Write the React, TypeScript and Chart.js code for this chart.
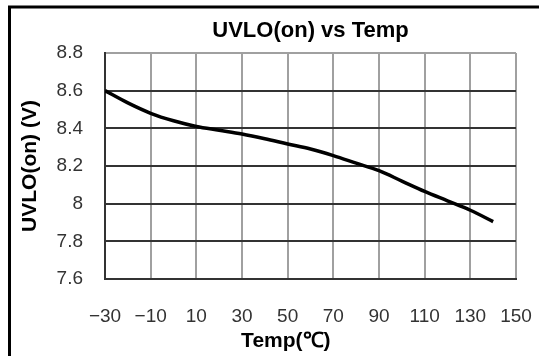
import React, { useEffect, useRef } from "react";
import { Chart, registerables } from "chart.js";

Chart.register(...registerables);

const temps = [-30, -20, -10, 0, 10, 20, 30, 40, 50, 60, 70, 80, 90, 100, 110, 120, 130, 140];
const uvloOn = [8.6, 8.535, 8.48, 8.44, 8.41, 8.39, 8.37, 8.345, 8.317, 8.29, 8.255, 8.215, 8.175, 8.12, 8.065, 8.015, 7.965, 7.905];
const xTickValues = [-30, -10, 10, 30, 50, 70, 90, 110, 130, 150];
const yTickValues = [7.6, 7.8, 8.0, 8.2, 8.4, 8.6, 8.8];
const chartTitle = "UVLO(on) vs Temp";
const xTitle = "Temp(℃)";
const yTitle = "UVLO(on) (V)";

const FONT = "'Liberation Sans', Arial, sans-serif";

export default function App() {
  const ref = useRef<HTMLCanvasElement | null>(null);

  useEffect(() => {
    const canvas = ref.current;
    if (!canvas) return;

    const framePlugin = {
      id: "frame",
      beforeDraw(chart: any) {
        const ctx = chart.ctx;
        ctx.save();
        ctx.fillStyle = "#fff";
        ctx.fillRect(0, 0, chart.width, chart.height);
        ctx.strokeStyle = "#000";
        ctx.lineWidth = 3;
        ctx.beginPath();
        ctx.moveTo(9.5, chart.height);
        ctx.lineTo(9.5, 7);
        ctx.lineTo(chart.width, 7);
        ctx.stroke();
        ctx.restore();
      },
      afterDraw(chart: any) {
        const ctx = chart.ctx;
        const a = chart.chartArea;
        ctx.save();
        ctx.font = `bold 21px ${FONT}`;
        ctx.fillStyle = "#000";
        ctx.textAlign = "center";
        ctx.textBaseline = "middle";
        ctx.fillText(xTitle, a.left + (a.right - a.left) * 0.44, 341);
        ctx.restore();
      },
    };

    const chart = new Chart(canvas, {
      type: "line",
      data: {
        datasets: [
          {
            data: temps.map((t, i) => ({ x: t, y: uvloOn[i] })),
            borderColor: "#000",
            borderWidth: 3.5,
            pointRadius: 0,
            cubicInterpolationMode: "monotone",
            fill: false,
          },
        ],
      },
      options: {
        responsive: false,
        animation: false,
        layout: { padding: { left: 0, right: 23, top: 0, bottom: 0 } },
        plugins: {
          legend: { display: false },
          tooltip: { enabled: false },
          title: {
            display: true,
            text: chartTitle,
            fullSize: false,
            color: "#000",
            font: { family: FONT, size: 22, weight: "bold" },
            padding: { top: 18, bottom: 8.6 },
          },
        },
        scales: {
          x: {
            type: "linear",
            min: -30,
            max: 150,
            afterBuildTicks: (scale: any) => {
              scale.ticks = xTickValues.map((v) => ({ value: v }));
            },
            afterFit: (scale: any) => {
              scale.height = 77;
              scale.paddingLeft = 0;
              scale.paddingRight = 0;
            },
            ticks: {
              color: "#333",
              font: { family: FONT, size: 19 },
              padding: 26,
              maxRotation: 0,
              autoSkip: false,
              callback: (v: any) => (v < 0 ? "\u2212" + Math.abs(v) : String(v)),
            },
            grid: { color: "#a0a0a0", lineWidth: 2, drawTicks: false },
            border: { color: "#333", width: 2 },
          },
          y: {
            type: "linear",
            min: 7.6,
            max: 8.8,
            afterBuildTicks: (scale: any) => {
              scale.ticks = yTickValues.map((v) => ({ value: v }));
            },
            afterFit: (scale: any) => {
              scale.width = 105;
              scale.paddingTop = 0;
              scale.paddingBottom = 0;
            },
            ticks: {
              color: "#333",
              font: { family: FONT, size: 19 },
              padding: 22,
              autoSkip: false,
              callback: (v: any) => String(Number(Number(v).toFixed(1))),
            },
            grid: {
              color: (c: any) => (c.tick && Math.abs(c.tick.value - 8.8) < 1e-6 ? "#a0a0a0" : "#333"),
              lineWidth: 2,
              drawTicks: false,
            },
            border: { color: "#333", width: 2 },
            title: {
              display: true,
              text: yTitle,
              color: "#000",
              font: { family: FONT, size: 21, weight: "bold" },
              padding: { top: 18, bottom: 0 },
            },
          },
        },
      },
      plugins: [framePlugin],
    } as any);

    return () => chart.destroy();
  }, []);

  return (
    <div style={{ position: "fixed", left: 0, top: 0, width: 539, height: 356, overflow: "hidden", background: "#fff" }}>
      <canvas ref={ref} width={539} height={356} style={{ display: "block", width: 539, height: 356 }} />
    </div>
  );
}
